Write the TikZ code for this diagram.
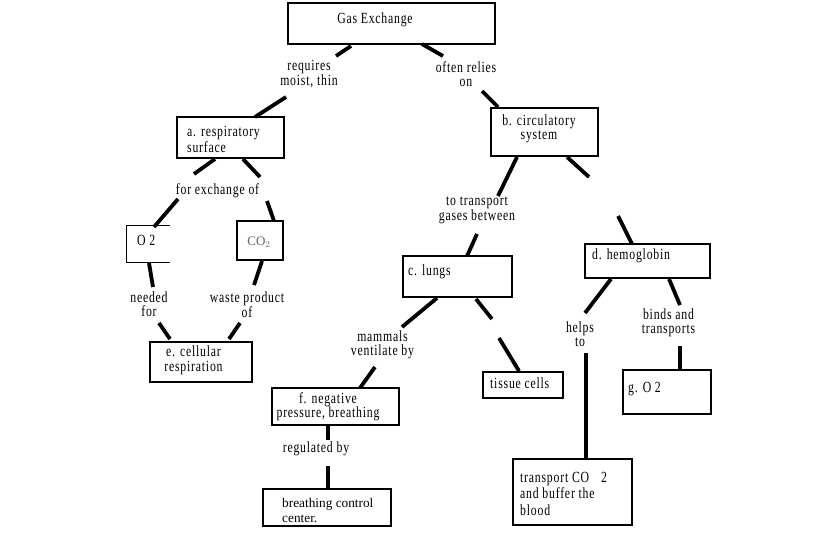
\documentclass[tikz,border=0pt]{standalone}
\usepackage{fontspec}
\setmainfont{Liberation Serif}[FakeStretch=0.76,LetterSpace=5]
\newfontfamily\tnr{Liberation Serif}
\begin{document}
\begin{tikzpicture}[x=1pt,y=-1pt,
  box/.style={draw=black,line width=1.3pt,rectangle,inner sep=0pt},
  txt/.style={inner sep=0pt,font=\fontsize{15.5}{14.5}\selectfont,text=black},
  lbl/.style={inner sep=0pt,font=\fontsize{15.5}{14}\selectfont,text=black,anchor=center,align=center},
  conn/.style={line width=3.8pt,line cap=butt}]
\useasboundingbox (0,0) rectangle (840,533);
\fill[white] (0,0) rectangle (840,533);

% boxes
\node[box,minimum width=207pt,minimum height=41pt] (gas) at (391.5,23.5) {};
\node[box,minimum width=107pt,minimum height=41pt] (a) at (230.5,137.5) {};
\node[box,minimum width=107pt,minimum height=48pt] (b) at (544.5,132) {};
\node[inner sep=0pt,minimum width=43pt,minimum height=36pt] (o) at (148.5,244) {};
\draw[line width=1.3pt] (o.north east) -- (o.north west) -- (o.south west) -- (o.south east);
\node[box,line width=2.4pt,minimum width=46pt,minimum height=39pt] (co) at (260,240.5) {};
\node[box,minimum width=102pt,minimum height=40pt] (e) at (201,362) {};
\node[box,minimum width=109pt,minimum height=41pt] (c) at (457.5,276.5) {};
\node[box,minimum width=80pt,minimum height=26pt] (ts) at (523,385) {};
\node[box,line width=2pt,minimum width=127pt,minimum height=37pt] (f) at (335.5,406.5) {};
\node[box,line width=1.8pt,minimum width=128pt,minimum height=37pt] (bc) at (327,507.5) {};
\node[box,minimum width=125pt,minimum height=34pt] (d) at (647.5,261) {};
\node[box,minimum width=88pt,minimum height=44pt] (g) at (667,392) {};
\node[box,minimum width=119pt,minimum height=66pt] (tr) at (572.5,492) {};

% box texts
\node[txt] (gasT) at (375,20) {Gas Exchange};
\node[txt,anchor=west,align=left,font=\fontsize{15.5}{16}\selectfont] (aT) at (187,139) {a. respiratory\\surface};
\node[txt,align=center] (bT) at (539,129) {b. circulatory\\system};
\node[txt,anchor=west] (oT) at (137,240) {O 2};
\node[inner sep=0pt,font=\tnr\fontsize{13}{14}\selectfont,text=black!60] (coT) at (259,242) {CO$_2$};
\node[txt,align=center] (eT) at (193.5,360.5) {e. cellular\\respiration};
\node[txt,anchor=west] (cT) at (408,272) {c. lungs};
\node[txt,anchor=west] (tsT) at (490,383) {tissue cells};
\node[txt,align=center] (fT) at (328,406.5) {f. negative\\pressure, breathing};
\node[inner sep=0pt,anchor=west,align=left,font=\tnr\fontsize{13.3}{15}\selectfont] (bcT) at (282,510.5) {breathing control\\center.};
\node[txt,anchor=west] (dT) at (592,256) {d. hemoglobin};
\node[txt,anchor=west] (gT) at (628,389) {g. O 2};
\node[txt,anchor=west,align=left,font=\fontsize{15.5}{16.5}\selectfont] (trT) at (520,493.5) {transport CO\hspace{12pt}2\\and buffer the\\blood};

% connector labels
\node[lbl] (l1) at (309,74) {requires\\moist, thin};
\node[lbl] (l2) at (466,74) {often relies\\on};
\node[lbl] (l3) at (217.5,191) {for exchange of};
\node[lbl] (l4) at (149,304.5) {needed\\for};
\node[lbl] (l5) at (247,304.5) {waste product\\of};
\node[lbl] (l6) at (477,210) {to transport\\gases between};
\node[lbl] (l8) at (382.5,345) {mammals\\ventilate by};
\node[lbl] (l10) at (316,449) {regulated by};
\node[lbl] (l11) at (580,334) {helps\\to};
\node[lbl] (l12) at (668.5,323) {binds and\\transports};

% connector end points
\coordinate (p1) at (351,46); \coordinate (p2) at (336,56);
\coordinate (p3) at (286,97); \coordinate (p4) at (255,117);
\coordinate (q1) at (422,44); \coordinate (q2) at (443,56);
\coordinate (q3) at (482,91); \coordinate (q4) at (498,107);
\coordinate (r1) at (215,159); \coordinate (r2) at (194,174);
\coordinate (r3) at (243,159); \coordinate (r4) at (260,177);
\coordinate (r5) at (178,199); \coordinate (r6) at (154,227);
\coordinate (r7) at (267,201); \coordinate (r8) at (274,221);
\coordinate (s1) at (149,263); \coordinate (s2) at (153,287);
\coordinate (s3) at (159,323); \coordinate (s4) at (170,339);
\coordinate (t1) at (262,261); \coordinate (t2) at (254,285);
\coordinate (t3) at (240,323); \coordinate (t4) at (229,339);
\coordinate (u1) at (517,157); \coordinate (u2) at (498,196);
\coordinate (u3) at (477,234); \coordinate (u4) at (467,256);
\coordinate (v1) at (567,157); \coordinate (v2) at (589,177);
\coordinate (v3) at (618,216); \coordinate (v4) at (632,244);
\coordinate (w1) at (437,298); \coordinate (w2) at (402,327);
\coordinate (w3) at (375,367); \coordinate (w4) at (360,388);
\coordinate (x1) at (476,299); \coordinate (x2) at (492,319);
\coordinate (x3) at (499,338); \coordinate (x4) at (519,371);
\coordinate (y1) at (328,426); \coordinate (y2) at (328,440);
\coordinate (y3) at (328,466); \coordinate (y4) at (328,488);
\coordinate (z1) at (611,279); \coordinate (z2) at (585,313);
\coordinate (z3) at (586,353); \coordinate (z4) at (586,458);
\coordinate (k1) at (669,279); \coordinate (k2) at (680,305);
\coordinate (k3) at (680,346); \coordinate (k4) at (680,370);

\foreach \a/\b in {p1/p2,p3/p4,q1/q2,q3/q4,r1/r2,r3/r4,r5/r6,r7/r8,s1/s2,s3/s4,t1/t2,t3/t4,u1/u2,u3/u4,v1/v2,v3/v4,w1/w2,w3/w4,x1/x2,x3/x4,y1/y2,y3/y4,z1/z2,z3/z4,k1/k2,k3/k4}
  \draw[conn] (\a) -- (\b);
\end{tikzpicture}
\end{document}
